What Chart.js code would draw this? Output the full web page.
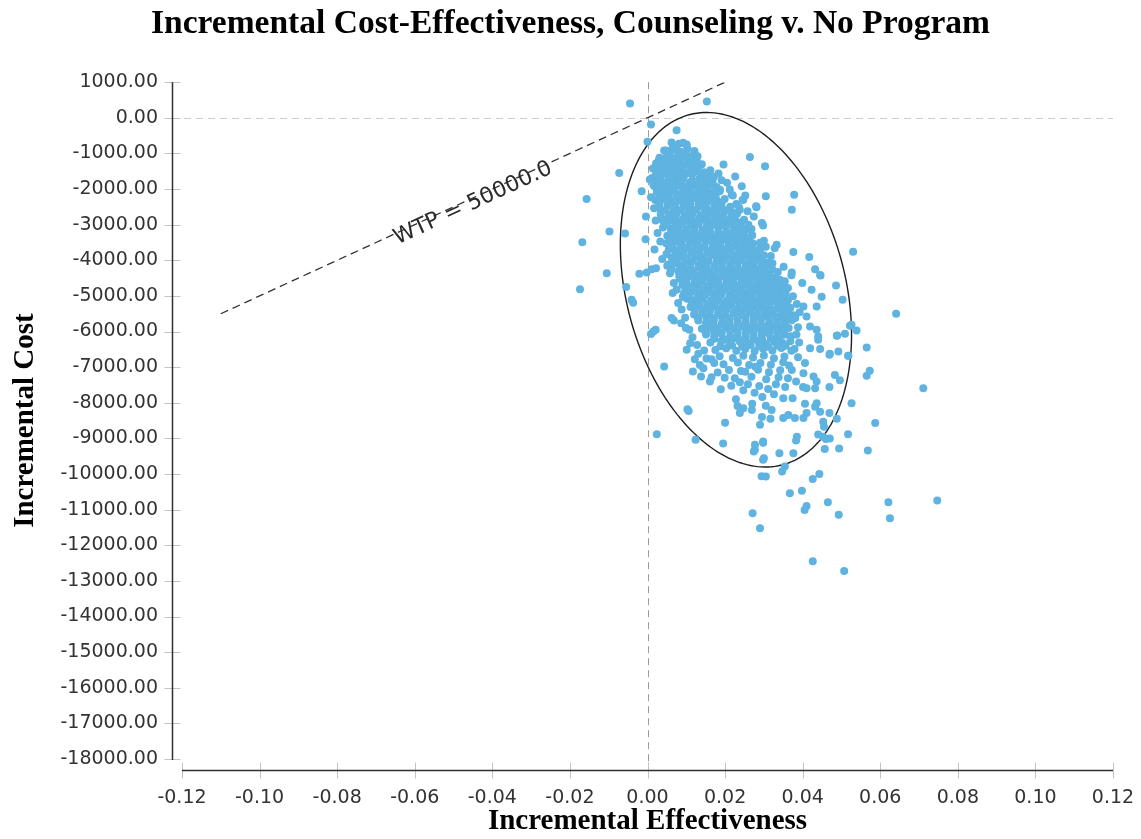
<!DOCTYPE html>
<html>
<head>
<meta charset="utf-8">
<script src="https://cdn.jsdelivr.net/npm/chart.js@4.4.1/dist/chart.umd.min.js"></script>
<style>
  html, body { margin: 0; padding: 0; background: #fff; }
</style>
</head>
<body>
<canvas id="grafica" width="1141" height="839"></canvas>
<script>
// Nube de simulaciones: efectividad incremental vs costo incremental.
const ticksEfectividad = [-0.12, -0.10, -0.08, -0.06, -0.04, -0.02, 0, 0.02, 0.04, 0.06, 0.08, 0.10, 0.12];
const ticksCosto = [1000, 0, -1000, -2000, -3000, -4000, -5000, -6000, -7000, -8000, -9000,
  -10000, -11000, -12000, -13000, -14000, -15000, -16000, -17000, -18000];

// Linea de disposicion a pagar (WTP = 50000)
const lineaWtpEfecto = [-0.11, 0.02];
const lineaWtpCosto = [-5500, 1000];
const etiquetaWtp = "WTP = 50000.0";

// Elipse de confianza: centro y semiejes (efecto, costo)
const elipseCentro = [0.0228, -4827];
const elipseEjeA = [0.0298, -1265];
const elipseEjeB = [0, 4813];

// Parte alta del nucleo denso
const nucleoAlto = [
  [0.0062,-690],[0.0081,-730],[0.0100,-760],
  [0.0043,-920],[0.0064,-880],[0.0085,-950],[0.0103,-870],[0.0121,-930],
  [0.0031,-1120],[0.0050,-1060],[0.0071,-1140],[0.0090,-1090],[0.0112,-1150],[0.0129,-1080],
  [0.0022,-1280],[0.0041,-1340],[0.0063,-1270],[0.0080,-1330],[0.0101,-1290],[0.0119,-1360],[0.0140,-1300],
  [0.0026,-1540],[0.0045,-1480],[0.0066,-1520],[0.0087,-1460],[0.0105,-1550],[0.0127,-1490],[0.0146,-1530],[0.0162,-1470],
  [0.0012,-1690],[0.0033,-1740],[0.0054,-1670],[0.0074,-1720],[0.0093,-1680],[0.0115,-1750],[0.0134,-1700],[0.0153,-1730],[0.0171,-1660],
  [0.0018,-1920],[0.0039,-1870],[0.0058,-1940],[0.0079,-1890],[0.0098,-1950],[0.0120,-1880],[0.0139,-1930],[0.0160,-1870],[0.0178,-1940],
  [0.0024,-2080],[0.0046,-2130],[0.0065,-2070],[0.0086,-2140],[0.0105,-2090],[0.0126,-2150],[0.0145,-2080],[0.0166,-2120],[0.0186,-2060],
  [0.0020,-2310],[0.0041,-2270],[0.0060,-2340],[0.0081,-2280],[0.0100,-2330],[0.0122,-2260],[0.0141,-2320],[0.0162,-2290],[0.0181,-2350],[0.0199,-2280],
  [0.0031,-2520],[0.0052,-2470],[0.0071,-2540],[0.0093,-2490],[0.0112,-2550],[0.0133,-2480],[0.0152,-2530],[0.0173,-2470],[0.0192,-2540],[0.0213,-2500],
  [0.0034,-2690],[0.0056,-2740],[0.0075,-2680],[0.0096,-2730],[0.0116,-2670],[0.0137,-2750],[0.0156,-2700],[0.0178,-2720],[0.0197,-2660],[0.0218,-2740],[0.0231,-2690],
  [0.0042,-2920],[0.0063,-2870],[0.0082,-2940],[0.0104,-2880],[0.0123,-2930],[0.0144,-2860],[0.0164,-2950],[0.0185,-2890],[0.0205,-2920],[0.0226,-2870],[0.0240,-2940],
  [0.0040,-3080],[0.0061,-3130],[0.0080,-3070],[0.0101,-3140],[0.0121,-3090],[0.0142,-3150],[0.0161,-3080],[0.0183,-3120],[0.0202,-3060],[0.0223,-3140],[0.0243,-3090],[0.0258,-3130],
  [0.0051,-3310],[0.0072,-3270],[0.0091,-3340],[0.0112,-3280],[0.0132,-3330],[0.0153,-3260],[0.0172,-3350],[0.0194,-3290],[0.0213,-3320],[0.0234,-3270],[0.0253,-3340],[0.0270,-3300],
  [0.0048,-3520],[0.0069,-3470],[0.0088,-3540],[0.0110,-3490],[0.0129,-3550],[0.0150,-3480],[0.0170,-3530],[0.0191,-3460],[0.0210,-3540],[0.0231,-3500],[0.0251,-3470],[0.0272,-3530],
  [0.0055,-3690],[0.0076,-3740],[0.0095,-3680],[0.0117,-3730],[0.0136,-3670],[0.0157,-3750],[0.0177,-3700],[0.0198,-3720],[0.0217,-3660],[0.0238,-3740],[0.0258,-3690],[0.0279,-3730],[0.0290,-3680],
  [0.0062,-3920],[0.0083,-3870],[0.0102,-3940],[0.0124,-3880],[0.0143,-3930],[0.0164,-3860],[0.0184,-3950],[0.0205,-3890],[0.0224,-3920],[0.0245,-3870],[0.0265,-3940],[0.0286,-3900],[0.0300,-3860]
];

// Parte baja del nucleo denso
const nucleoBajo = [
  [0.0071,-4080],[0.0092,-4130],[0.0111,-4070],[0.0133,-4140],[0.0152,-4090],[0.0173,-4150],[0.0193,-4080],[0.0214,-4120],[0.0233,-4060],[0.0254,-4140],[0.0274,-4090],[0.0295,-4130],[0.0309,-4070],
  [0.0079,-4310],[0.0100,-4270],[0.0119,-4340],[0.0141,-4280],[0.0160,-4330],[0.0181,-4260],[0.0201,-4350],[0.0222,-4290],[0.0241,-4320],[0.0262,-4270],[0.0282,-4340],[0.0303,-4300],[0.0322,-4260],
  [0.0083,-4520],[0.0104,-4470],[0.0123,-4540],[0.0145,-4490],[0.0164,-4550],[0.0185,-4480],[0.0205,-4530],[0.0226,-4460],[0.0245,-4540],[0.0266,-4500],[0.0286,-4470],[0.0307,-4530],[0.0326,-4490],[0.0338,-4540],
  [0.0090,-4690],[0.0111,-4740],[0.0130,-4680],[0.0152,-4730],[0.0171,-4670],[0.0192,-4750],[0.0212,-4700],[0.0233,-4720],[0.0252,-4660],[0.0273,-4740],[0.0293,-4690],[0.0314,-4730],[0.0333,-4680],[0.0347,-4720],
  [0.0094,-4920],[0.0115,-4870],[0.0134,-4940],[0.0156,-4880],[0.0175,-4930],[0.0196,-4860],[0.0216,-4950],[0.0237,-4890],[0.0256,-4920],[0.0277,-4870],[0.0297,-4940],[0.0318,-4900],[0.0337,-4860],[0.0356,-4930],
  [0.0102,-5080],[0.0123,-5130],[0.0142,-5070],[0.0164,-5140],[0.0183,-5090],[0.0204,-5150],[0.0224,-5080],[0.0245,-5120],[0.0264,-5060],[0.0285,-5140],[0.0305,-5090],[0.0326,-5130],[0.0345,-5070],[0.0362,-5120],
  [0.0111,-5310],[0.0132,-5270],[0.0151,-5340],[0.0173,-5280],[0.0192,-5330],[0.0213,-5260],[0.0233,-5350],[0.0254,-5290],[0.0273,-5320],[0.0294,-5270],[0.0314,-5340],[0.0335,-5300],[0.0354,-5260],[0.0368,-5330],
  [0.0120,-5520],[0.0141,-5470],[0.0160,-5540],[0.0182,-5490],[0.0201,-5550],[0.0222,-5480],[0.0242,-5530],[0.0263,-5460],[0.0282,-5540],[0.0303,-5500],[0.0323,-5470],[0.0344,-5530],[0.0363,-5490],[0.0376,-5540],
  [0.0131,-5690],[0.0152,-5740],[0.0171,-5680],[0.0193,-5730],[0.0212,-5670],[0.0233,-5750],[0.0253,-5700],[0.0274,-5720],[0.0293,-5660],[0.0314,-5740],[0.0334,-5690],[0.0355,-5730],[0.0372,-5680],
  [0.0140,-5920],[0.0161,-5870],[0.0180,-5940],[0.0202,-5880],[0.0221,-5930],[0.0242,-5860],[0.0262,-5950],[0.0283,-5890],[0.0302,-5920],[0.0323,-5870],[0.0343,-5940],[0.0364,-5900],
  [0.0151,-6080],[0.0172,-6130],[0.0191,-6070],[0.0213,-6140],[0.0232,-6090],[0.0253,-6150],[0.0273,-6080],[0.0294,-6120],[0.0313,-6060],[0.0334,-6140],[0.0354,-6090],[0.0370,-6130],
  [0.0162,-6310],[0.0190,-6270],[0.0212,-6340],[0.0238,-6280],[0.0261,-6330],[0.0284,-6260],[0.0305,-6350],[0.0327,-6290],[0.0348,-6320],[0.0368,-6270],
  [0.0175,-6520],[0.0203,-6470],[0.0229,-6540],[0.0252,-6490],[0.0276,-6550],[0.0298,-6480],[0.0322,-6530],[0.0345,-6460],[0.0371,-6540],
  [0.0186,-6690],[0.0220,-6740],[0.0247,-6680],[0.0272,-6730],[0.0300,-6670],[0.0326,-6750],[0.0353,-6700],
  [0.0196,-6920],[0.0233,-6870],[0.0262,-6940],[0.0291,-6880],[0.0318,-6930],[0.0350,-6860],
  [0.0210,-7080],[0.0252,-7130],[0.0285,-7070],[0.0313,-7140],[0.0342,-7090],
  [0.0225,-7310],[0.0268,-7270],[0.0306,-7340],[0.0338,-7280]
];

// Puntos intermedios que cierran los huecos del nucleo
const nucleoRelleno = [
  [0.0058,-1010],[0.0079,-990],[0.0098,-1020],
  [0.0040,-1210],[0.0061,-1190],[0.0083,-1220],[0.0104,-1180],[0.0122,-1230],
  [0.0032,-1410],[0.0053,-1380],[0.0072,-1420],[0.0091,-1400],[0.0111,-1390],[0.0131,-1430],
  [0.0036,-1610],[0.0057,-1590],[0.0077,-1620],[0.0096,-1600],[0.0116,-1580],[0.0137,-1630],[0.0155,-1600],
  [0.0028,-1790],[0.0048,-1820],[0.0068,-1800],[0.0088,-1780],[0.0108,-1830],[0.0127,-1800],[0.0149,-1790],[0.0168,-1820],
  [0.0029,-2010],[0.0050,-1990],[0.0070,-2020],[0.0091,-1980],[0.0111,-2010],[0.0131,-2030],[0.0151,-1990],[0.0172,-2010],
  [0.0034,-2190],[0.0055,-2220],[0.0075,-2200],[0.0096,-2180],[0.0115,-2230],[0.0135,-2200],[0.0156,-2190],[0.0176,-2220],
  [0.0030,-2410],[0.0051,-2390],[0.0071,-2420],[0.0091,-2380],[0.0111,-2410],[0.0132,-2430],[0.0151,-2390],[0.0172,-2410],[0.0191,-2400],
  [0.0045,-2600],[0.0066,-2620],[0.0085,-2590],[0.0106,-2610],[0.0126,-2580],[0.0147,-2630],[0.0167,-2600],[0.0187,-2610],[0.0207,-2590],
  [0.0052,-2810],[0.0073,-2790],[0.0093,-2820],[0.0113,-2780],[0.0133,-2810],[0.0154,-2830],[0.0174,-2790],[0.0195,-2810],[0.0215,-2800],
  [0.0050,-3000],[0.0071,-3020],[0.0091,-2990],[0.0112,-3010],[0.0132,-2980],[0.0153,-3030],[0.0172,-3000],[0.0193,-3010],[0.0213,-2990],[0.0233,-3020],
  [0.0061,-3210],[0.0082,-3190],[0.0102,-3220],[0.0122,-3180],[0.0142,-3210],[0.0163,-3230],[0.0183,-3190],[0.0204,-3210],[0.0224,-3200],[0.0244,-3220],
  [0.0059,-3400],[0.0080,-3420],[0.0100,-3390],[0.0121,-3410],[0.0141,-3380],[0.0162,-3430],[0.0181,-3400],[0.0202,-3410],[0.0222,-3390],[0.0242,-3420],[0.0261,-3400],
  [0.0065,-3610],[0.0086,-3590],[0.0106,-3620],[0.0126,-3580],[0.0146,-3610],[0.0167,-3630],[0.0187,-3590],[0.0208,-3610],[0.0228,-3600],[0.0248,-3620],[0.0267,-3590],
  [0.0072,-3800],[0.0093,-3820],[0.0113,-3790],[0.0134,-3810],[0.0154,-3780],[0.0175,-3830],[0.0194,-3800],[0.0215,-3810],[0.0235,-3790],[0.0255,-3820],[0.0274,-3800],
  [0.0076,-4010],[0.0097,-3990],[0.0117,-4020],[0.0137,-3980],[0.0157,-4010],[0.0178,-4030],[0.0198,-3990],[0.0219,-4010],[0.0239,-4000],[0.0259,-4020],[0.0279,-3990],[0.0296,-4010],
  [0.0090,-4200],[0.0111,-4220],[0.0131,-4190],[0.0152,-4210],[0.0172,-4180],[0.0193,-4230],[0.0212,-4200],[0.0233,-4210],[0.0253,-4190],[0.0273,-4220],[0.0292,-4200],[0.0311,-4190],
  [0.0092,-4410],[0.0113,-4390],[0.0133,-4420],[0.0153,-4380],[0.0173,-4410],[0.0194,-4430],[0.0214,-4390],[0.0235,-4410],[0.0255,-4400],[0.0275,-4420],[0.0294,-4390],[0.0314,-4410],
  [0.0100,-4600],[0.0121,-4620],[0.0141,-4590],[0.0162,-4610],[0.0182,-4580],[0.0203,-4630],[0.0222,-4600],[0.0243,-4610],[0.0263,-4590],[0.0283,-4620],[0.0302,-4600],[0.0322,-4610],
  [0.0100,-4810],[0.0121,-4790],[0.0141,-4820],[0.0161,-4780],[0.0181,-4810],[0.0202,-4830],[0.0222,-4790],[0.0243,-4810],[0.0263,-4800],[0.0283,-4820],[0.0302,-4790],[0.0322,-4810],[0.0340,-4800],
  [0.0108,-5000],[0.0129,-5020],[0.0149,-4990],[0.0170,-5010],[0.0190,-4980],[0.0211,-5030],[0.0230,-5000],[0.0251,-5010],[0.0271,-4990],[0.0291,-5020],[0.0310,-5000],[0.0330,-5010],[0.0349,-4990],
  [0.0114,-5210],[0.0135,-5190],[0.0155,-5220],[0.0175,-5180],[0.0195,-5210],[0.0216,-5230],[0.0236,-5190],[0.0257,-5210],[0.0277,-5200],[0.0297,-5220],[0.0316,-5190],[0.0336,-5210],[0.0355,-5200],
  [0.0122,-5400],[0.0143,-5420],[0.0163,-5390],[0.0184,-5410],[0.0204,-5380],[0.0225,-5430],[0.0244,-5400],[0.0265,-5410],[0.0285,-5390],[0.0305,-5420],[0.0324,-5400],[0.0344,-5410],[0.0362,-5390],
  [0.0130,-5610],[0.0151,-5590],[0.0171,-5620],[0.0191,-5580],[0.0211,-5610],[0.0232,-5630],[0.0252,-5590],[0.0273,-5610],[0.0293,-5600],[0.0313,-5620],[0.0332,-5590],[0.0352,-5610],[0.0369,-5600],
  [0.0150,-5800],[0.0171,-5820],[0.0191,-5790],[0.0212,-5810],[0.0232,-5780],[0.0253,-5830],[0.0272,-5800],[0.0293,-5810],[0.0313,-5790],[0.0333,-5820],[0.0352,-5800],
  [0.0150,-6010],[0.0171,-5990],[0.0191,-6020],[0.0212,-5980],[0.0232,-6010],[0.0253,-6030],[0.0273,-5990],[0.0294,-6010],[0.0314,-6000],[0.0334,-6020],[0.0353,-5990],
  [0.0172,-6200],[0.0200,-6220],[0.0225,-6190],[0.0250,-6210],[0.0273,-6180],[0.0296,-6230],[0.0318,-6200],[0.0340,-6210],
  [0.0188,-6410],[0.0218,-6390],[0.0244,-6420],[0.0266,-6380],[0.0288,-6410],[0.0311,-6430],[0.0335,-6390],[0.0356,-6400]
];

// Franja irregular entre el nucleo y la elipse
const periferia = [
  [0.0196,-1310],[0.0183,-1560],[0.0205,-1820],[0.0226,-1650],[0.0212,-2010],[0.0229,-2420],[0.0252,-2180],
  [0.0219,-2650],[0.0258,-2620],[0.0249,-2860],[0.0268,-3120],[0.0263,-3380],
  [0.0305,-3620],[0.0318,-3880],[0.0322,-4080],[0.0336,-4330],[0.0351,-4180],[0.0343,-4560],[0.0362,-4780],
  [0.0371,-4420],[0.0375,-5010],[0.0385,-5230],[0.0381,-5620],[0.0392,-5460],[0.0388,-5880],[0.0384,-6080],
  [0.0391,-6310],[0.0379,-6490],[0.0388,-6720],[0.0365,-6950],
  [0.0172,-6880],[0.0181,-7150],[0.0199,-7300],[0.0216,-7520],[0.0238,-7420],[0.0247,-7650],[0.0259,-7480],
  [0.0276,-7720],[0.0288,-7530],[0.0296,-7840],[0.0311,-7610],[0.0326,-7760],[0.0331,-7480],[0.0355,-7560],
  [0.0362,-7310],[0.0372,-7080],[0.0270,-8030],[0.0305,-8080],[0.0241,-7110],[0.0278,-6990],
  [0.0038,-3960],[0.0061,-4230],[0.0068,-4640],[0.0075,-4830],[0.0079,-5200],[0.0088,-5380],[0.0097,-5610],
  [0.0087,-5770],[0.0108,-5950],[0.0116,-6160],[0.0128,-6380],[0.0131,-6620],[0.0146,-6530],[0.0152,-6760],
  [0.0117,-7120],[0.0138,-7260],
  [0.0014,-1420],[0.0006,-1730],[0.0009,-2230],[0.0017,-2540],[0.0021,-2880],[0.0026,-3230],[0.0033,-3470]
];

// Puntos sueltos alrededor del nucleo
const puntosBorde = [
  [0.0009,-190],[0.0000,-675],[0.0075,-350],[0.0092,-700],[0.0101,-750],[0.0073,-840],[0.0048,-920],
  [0.0029,-1190],[0.0054,-1170],[0.0108,-1100],[0.0124,-1200],[0.0127,-1220],[0.0110,-1080],
  [0.0015,-1880],[0.0024,-1590],[0.0022,-1575],[0.0032,-2015],[0.0032,-2200],[0.0165,-1670],[0.0191,-1750],
  [0.0187,-2020],[0.0217,-2160],[0.0220,-2180],[0.0247,-2300],[0.0170,-2340],[0.0245,-2310],[0.0236,-2520],[0.0238,-2580],
  [0.0280,-2480],[0.0281,-2510],[0.0274,-2770],[0.0295,-2950],[0.0298,-3020],[0.0260,-3000],[0.0290,-3510],
  [0.0300,-3450],[0.0290,-3670],[0.0328,-3660],[0.0333,-3560],[0.0264,-1100],[0.0303,-1360],[0.0305,-2200],
  [0.0378,-2160],[0.0372,-2580],[0.0243,-1920],
  [-0.0004,-2770],[-0.0005,-3410],[-0.0015,-2060],[0.0034,-2840],[0.0018,-3700],[0.0049,-3820],
  [0.0054,-4120],[0.0051,-4150],[0.0058,-4360],[0.0084,-4170],[0.0082,-4450],[0.0011,-4250],[0.0022,-4220],
  [-0.0002,-4340],[-0.0021,-4380],[0.0065,-4920],[0.0092,-5010],[0.0091,-5030],[0.0068,-5690],[0.0062,-5620],
  [0.0099,-5900],[0.0021,-5950],[0.0015,-6000],[0.0009,-6070],[0.0101,-6510],[0.0110,-6330],[0.0122,-6780],
  [0.0135,-6940],[0.0144,-7030],[0.0165,-6780],[0.0161,-7400],[0.0165,-7280],[0.0189,-7620],
  [0.0376,-3770],[0.0417,-3910],[0.0432,-4250],[0.0446,-4430],[0.0445,-4410],[0.0486,-4710],[0.0503,-5110],
  [0.0372,-4340],[0.0399,-4640],[0.0354,-4590],[0.0423,-4830],[0.0449,-5020],[0.0436,-5300],[0.0402,-5300],
  [0.0410,-5580],[0.0419,-5860],[0.0436,-5950],[0.0440,-6140],[0.0440,-6230],[0.0445,-6490],[0.0419,-6470],
  [0.0488,-6120],[0.0509,-6060],[0.0522,-5840],[0.0526,-5810],[0.0539,-5970],[0.0489,-6110],
  [0.0469,-6650],[0.0492,-6560],[0.0470,-6620],[0.0518,-6680],[0.0406,-6880],[0.0402,-7170],[0.0428,-7260],
  [0.0436,-7400],[0.0483,-7220],[0.0469,-7560],[0.0496,-7370],[0.0383,-7400],[0.0401,-7560],[0.0410,-7590],
  [0.0432,-7590],[0.0350,-7870],[0.0374,-7870],[0.0406,-8030],[0.0432,-8110],[0.0436,-8010],[0.0228,-7900],
  [0.0232,-8090],[0.0238,-8290],[0.0247,-8150],[0.0269,-8200],[0.0295,-8400],[0.0290,-8620],[0.0317,-8450],
  [0.0320,-8200],[0.0363,-8340],[0.0350,-8430],[0.0380,-8430],[0.0402,-8430],[0.0410,-8290],[0.0445,-8250],
  [0.0469,-8290],[0.0488,-8450],[0.0453,-8530],[0.0455,-8670],[0.0453,-8950],[0.0470,-9000],[0.0460,-9020],
  [0.0440,-8890],[0.0457,-9300],[0.0494,-9280],[0.0385,-8950],[0.0383,-9060],[0.0376,-9420],[0.0340,-9420],
  [0.0300,-9560],[0.0298,-9120],[0.0298,-9090],[0.0277,-9180],[0.0274,-9370],[0.0277,-9320],[0.0195,-9140],
  [0.0200,-8560],[0.0103,-8180],[0.0106,-8230],[0.0124,-9040]
];

// Valores extremos de la nube
const puntosAtipicos = [
  [-0.0045,400],[0.0153,460],[-0.0073,-1550],[-0.0157,-2280],[-0.0098,-3190],[-0.0168,-3490],
  [-0.0058,-3250],[-0.0105,-4360],[-0.0174,-4810],[-0.0055,-4750],[-0.0041,-5110],[-0.0037,-5190],
  [0.0043,-6980],[0.0024,-8880],[0.0530,-3760],[0.0641,-5500],[0.0565,-6450],[0.0517,-6680],
  [0.0573,-7100],[0.0565,-7240],[0.0711,-7590],[0.0526,-8010],[0.0587,-8570],[0.0517,-8880],[0.0568,-9340],
  [0.0298,-9600],[0.0294,-10060],[0.0305,-10070],[0.0354,-9790],[0.0347,-9930],[0.0426,-10140],
  [0.0443,-10000],[0.0367,-10540],[0.0398,-10470],[0.0410,-10900],[0.0405,-11010],[0.0465,-10790],
  [0.0493,-11140],[0.0271,-11100],[0.0290,-11520],[0.0426,-12450],[0.0507,-12720],[0.0621,-10790],
  [0.0625,-11240],[0.0747,-10740]
];

const COLOR_PUNTO = "#5eb3e0";
const FUENTE_EJES = "'DejaVu Sans', sans-serif";
const FUENTE_TITULOS = "'Liberation Serif', 'Times New Roman', serif";

function formatoTick(valor) {
  return (Math.abs(valor) < 1e-9 ? 0 : valor).toFixed(2);
}

const nube = [...nucleoAlto, ...nucleoBajo, ...nucleoRelleno, ...periferia, ...puntosBorde, ...puntosAtipicos]
  .map(([efecto, costo]) => ({ x: efecto, y: costo }));

// Ejes separados del area de trazado, lineas de cero y elipse.
const decoracion = {
  id: "decoracion",
  beforeDatasetsDraw(chart) {
    const { ctx, chartArea, scales } = chart;
    const { x, y } = scales;
    ctx.save();
    ctx.lineWidth = 1;
    ctx.setLineDash([7, 5]);
    ctx.strokeStyle = "#cdcdcd";
    const y0 = Math.round(y.getPixelForValue(0)) + 0.5;
    ctx.beginPath();
    ctx.moveTo(chartArea.left - 10, y0);
    ctx.lineTo(chartArea.right, y0);
    ctx.stroke();
    ctx.strokeStyle = "#9c9c9c";
    const x0 = Math.round(x.getPixelForValue(0)) + 0.5;
    ctx.beginPath();
    ctx.moveTo(x0, chartArea.top);
    ctx.lineTo(x0, chartArea.bottom + 11);
    ctx.stroke();
    ctx.setLineDash([]);

    ctx.strokeStyle = "#1e1e1e";
    ctx.lineWidth = 1.4;
    ctx.beginPath();
    for (let i = 0; i <= 200; i++) {
      const t = (i / 200) * 2 * Math.PI;
      const efecto = elipseCentro[0] + elipseEjeA[0] * Math.cos(t) + elipseEjeB[0] * Math.sin(t);
      const costo = elipseCentro[1] + elipseEjeA[1] * Math.cos(t) + elipseEjeB[1] * Math.sin(t);
      const px = x.getPixelForValue(efecto);
      const py = y.getPixelForValue(costo);
      if (i === 0) ctx.moveTo(px, py); else ctx.lineTo(px, py);
    }
    ctx.closePath();
    ctx.stroke();
    ctx.restore();
  },
  afterDatasetsDraw(chart) {
    const { ctx, scales } = chart;
    const { x, y } = scales;
    const ax = x.getPixelForValue(lineaWtpEfecto[0]);
    const ay = y.getPixelForValue(lineaWtpCosto[0]);
    const bx = x.getPixelForValue(lineaWtpEfecto[1]);
    const by = y.getPixelForValue(lineaWtpCosto[1]);
    const angulo = Math.atan2(by - ay, bx - ax);
    const px = x.getPixelForValue(-0.0455);
    const py = ay + (px - ax) * (by - ay) / (bx - ax);
    ctx.save();
    ctx.translate(px, py);
    ctx.rotate(angulo);
    ctx.fillStyle = "#2a2a2a";
    ctx.font = `22px ${FUENTE_EJES}`;
    ctx.textAlign = "center";
    ctx.textBaseline = "middle";
    ctx.fillText(etiquetaWtp, 0, 5);
    ctx.restore();
  },
  afterDraw(chart) {
    const { ctx, chartArea, scales } = chart;
    const { x, y } = scales;
    const ejeVert = chartArea.left - 10 + 0.5;
    const ejeHoriz = chartArea.bottom + 11 + 0.5;
    ctx.save();
    ctx.lineWidth = 1;
    ctx.strokeStyle = "#c2c2c2";
    y.ticks.forEach((_, i) => {
      const p = Math.round(y.getPixelForTick(i)) + 0.5;
      ctx.beginPath();
      ctx.moveTo(ejeVert - 8, p);
      ctx.lineTo(ejeVert + 8, p);
      ctx.stroke();
    });
    x.ticks.forEach((_, i) => {
      const p = Math.round(x.getPixelForTick(i)) + 0.5;
      ctx.beginPath();
      ctx.moveTo(p, ejeHoriz - 8);
      ctx.lineTo(p, ejeHoriz + 8);
      ctx.stroke();
    });
    ctx.strokeStyle = "#2f2f2f";
    ctx.lineWidth = 1.5;
    ctx.beginPath();
    ctx.moveTo(ejeVert, y.getPixelForValue(ticksCosto[0]));
    ctx.lineTo(ejeVert, y.getPixelForValue(ticksCosto[ticksCosto.length - 1]) + 1);
    ctx.stroke();
    ctx.beginPath();
    ctx.moveTo(chartArea.left, ejeHoriz);
    ctx.lineTo(chartArea.right, ejeHoriz);
    ctx.stroke();
    ctx.restore();
  }
};

new Chart(document.getElementById("grafica"), {
  type: "scatter",
  data: {
    datasets: [
      {
        type: "line",
        data: lineaWtpEfecto.map((e, i) => ({ x: e, y: lineaWtpCosto[i] })),
        borderColor: "#333",
        borderWidth: 1.3,
        borderDash: [8, 5],
        pointRadius: 0,
        fill: false
      },
      {
        data: nube,
        backgroundColor: COLOR_PUNTO,
        pointRadius: 4,
        pointBorderWidth: 0,
        borderWidth: 0
      }
    ]
  },
  options: {
    responsive: false,
    animation: false,
    events: [],
    layout: { padding: { left: 0, right: 0, top: 0, bottom: 0 } },
    plugins: {
      legend: { display: false },
      tooltip: { enabled: false },
      title: {
        display: true,
        text: "Incremental Cost-Effectiveness, Counseling v. No Program",
        color: "#000",
        font: { family: FUENTE_TITULOS, size: 33.5, weight: "bold" },
        padding: { top: 4, bottom: 38 }
      }
    },
    scales: {
      x: {
        type: "linear",
        min: ticksEfectividad[0],
        max: ticksEfectividad[ticksEfectividad.length - 1],
        afterBuildTicks: scale => { scale.ticks = ticksEfectividad.map(v => ({ value: v })); },
        afterFit: scale => {
          scale.height = 80;
          scale.paddingRight = 28;
          scale.paddingLeft = 0;
        },
        grid: { display: false, drawTicks: false },
        border: { display: false },
        ticks: {
          color: "#333",
          font: { family: FUENTE_EJES, size: 19 },
          padding: 28,
          maxRotation: 0,
          autoSkip: false,
          callback: formatoTick
        },
        title: {
          display: true,
          text: "Incremental Effectiveness",
          color: "#000",
          font: { family: FUENTE_TITULOS, size: 29, weight: "bold" },
          padding: { top: 0, bottom: 0 }
        }
      },
      y: {
        type: "linear",
        min: ticksCosto[ticksCosto.length - 1],
        max: ticksCosto[0],
        afterBuildTicks: scale => { scale.ticks = ticksCosto.map(v => ({ value: v })); },
        afterFit: scale => { scale.width = 182; },
        grid: { display: false, drawTicks: false },
        border: { display: false },
        ticks: {
          color: "#333",
          font: { family: FUENTE_EJES, size: 19 },
          padding: 24,
          autoSkip: false,
          callback: formatoTick
        },
        title: {
          display: true,
          text: "Incremental Cost",
          color: "#000",
          font: { family: FUENTE_TITULOS, size: 29, weight: "bold" },
          padding: { top: 8, bottom: 0 }
        }
      }
    }
  },
  plugins: [decoracion]
});
</script>
</body>
</html>
